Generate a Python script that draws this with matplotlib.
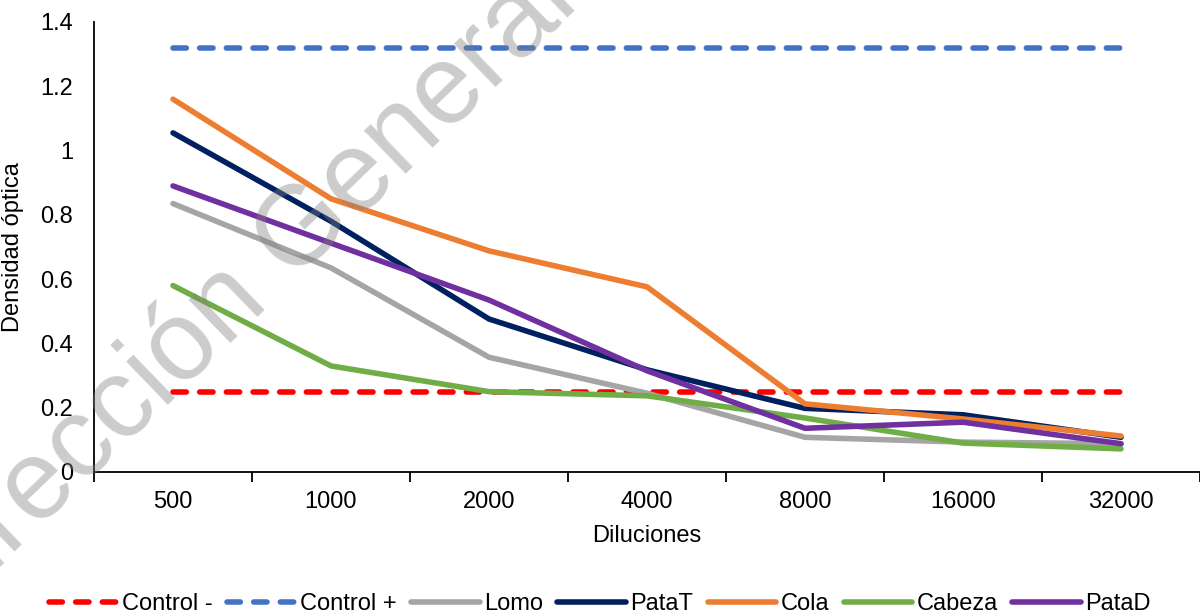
import matplotlib
matplotlib.use("Agg")
import matplotlib.pyplot as plt
import numpy as np

plt.rcParams['font.family'] = ['Liberation Sans', 'DejaVu Sans']

# Datos
diluciones = ["500", "1000", "2000", "4000", "8000", "16000", "32000"]
control_neg = [0.25, 0.25, 0.25, 0.25, 0.25, 0.25, 0.25]
control_pos = [1.32, 1.32, 1.32, 1.32, 1.32, 1.32, 1.32]
lomo = [0.835, 0.635, 0.357, 0.245, 0.108, 0.093, 0.088]
pata_t = [1.055, 0.78, 0.476, 0.318, 0.198, 0.178, 0.108]
cola = [1.16, 0.85, 0.688, 0.576, 0.212, 0.165, 0.112]
cabeza = [0.58, 0.33, 0.25, 0.237, 0.168, 0.09, 0.072]
pata_d = [0.89, 0.712, 0.535, 0.315, 0.136, 0.155, 0.088]

series = [
    ("Control -", control_neg, "#FF0000", True),
    ("Control +", control_pos, "#4472C4", True),
    ("Lomo", lomo, "#A5A5A5", False),
    ("PataT", pata_t, "#002060", False),
    ("Cola", cola, "#ED7D31", False),
    ("Cabeza", cabeza, "#70AD47", False),
    ("PataD", pata_d, "#7030A0", False),
]

fig = plt.figure(figsize=(12, 6.15), dpi=100)
ax = fig.add_axes([94 / 1200, 143 / 615, 1 - 94 / 1200, 450 / 615])

x = np.arange(len(diluciones))
for nombre, valores, color, punteada in series:
    if punteada:
        ax.plot(x, valores, color=color, linewidth=4, linestyle=(0, (2.4, 2.4)),
                dash_capstyle='round', label=nombre)
    else:
        ax.plot(x, valores, color=color, linewidth=4, solid_capstyle='round',
                solid_joinstyle='round', label=nombre)

ax.set_xlim(-0.5, len(diluciones) - 0.5)
ax.set_ylim(0, 1.4)
ax.set_yticks(np.arange(0, 1.41, 0.2))
ax.set_yticklabels(["0", "0.2", "0.4", "0.6", "0.8", "1", "1.2", "1.4"])
ax.tick_params(axis='y', length=0, pad=15, labelsize=17)

# marcas del eje x entre categorías, etiquetas centradas
ax.set_xticks(np.arange(-0.5, len(diluciones), 1))
ax.set_xticklabels([])
ax.set_xticks(x, minor=True)
ax.set_xticklabels(diluciones, minor=True)
ax.tick_params(axis='x', which='major', length=7, width=1.3, direction='out')
ax.tick_params(axis='x', which='minor', length=0, pad=14, labelsize=17)

for lado in ['top', 'right']:
    ax.spines[lado].set_visible(False)
for lado in ['left', 'bottom']:
    ax.spines[lado].set_linewidth(1.3)

ax.set_xlabel("Diluciones", fontsize=17, labelpad=8)
ax.set_ylabel("Densidad óptica", fontsize=17, labelpad=12)

fig.legend(loc='lower center', bbox_to_anchor=(0.5, -0.02), ncol=7, frameon=False,
           fontsize=17, handlelength=2.9, handletextpad=0.2, columnspacing=0.6,
           borderpad=0)

# marca de agua
fig.text(-0.056, -0.024, "Dirección General de Bibliotecas de la UNAM", fontsize=81,
         color="#808080", alpha=0.4, rotation=44, rotation_mode='anchor',
         ha='left', va='baseline', zorder=10)

fig.savefig("out.png", dpi=100)
